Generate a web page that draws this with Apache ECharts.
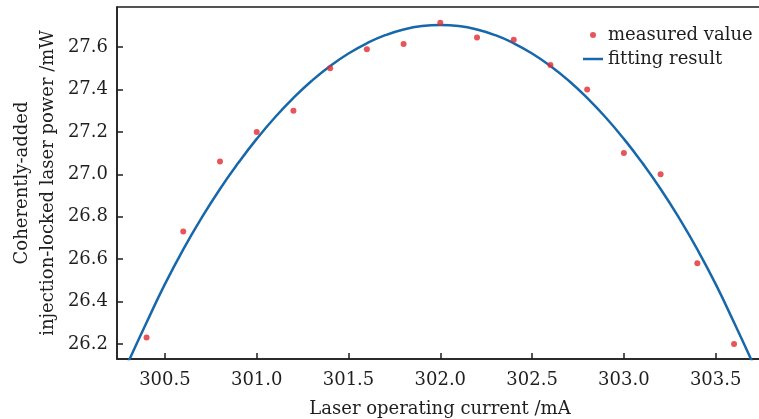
<!DOCTYPE html>
<html>
<head>
<meta charset="utf-8">
<script src="https://cdn.jsdelivr.net/npm/echarts@6/dist/echarts.min.js"></script>
<style>html,body{margin:0;padding:0;background:#fff}#c{width:759px;height:419px}</style>
</head>
<body>
<div id="c"></div>
<script>
// Measured data
var measuredX = [300.4, 300.6, 300.8, 301.0, 301.2, 301.4, 301.6, 301.8, 302.0, 302.2, 302.4, 302.6, 302.8, 303.0, 303.2, 303.4, 303.6];
var measuredY = [26.23, 26.73, 27.06, 27.20, 27.30, 27.50, 27.59, 27.615, 27.715, 27.645, 27.635, 27.515, 27.40, 27.10, 27.00, 26.58, 26.20];
// Fitting curve
var fitX = [300.3, 300.4, 300.5, 300.6, 300.7, 300.8, 300.9, 301.0, 301.1, 301.2, 301.3, 301.4, 301.5, 301.6, 301.7, 301.8, 301.9, 302.0, 302.1, 302.2, 302.3, 302.4, 302.5, 302.6, 302.7, 302.8, 302.9, 303.0, 303.1, 303.2, 303.3, 303.4, 303.5, 303.6, 303.7];
var fitY = [26.114, 26.301, 26.482, 26.646, 26.795, 26.931, 27.054, 27.167, 27.269, 27.360, 27.441, 27.511, 27.570, 27.618, 27.656, 27.683, 27.699, 27.704, 27.699, 27.683, 27.656, 27.618, 27.570, 27.511, 27.441, 27.360, 27.269, 27.167, 27.054, 26.931, 26.795, 26.646, 26.482, 26.301, 26.114];
// Tick labels
var xTicks = [300.5, 301.0, 301.5, 302.0, 302.5, 303.0, 303.5];
var yTicks = [26.2, 26.4, 26.6, 26.8, 27.0, 27.2, 27.4, 27.6];

var seriesNames = ['measured value', 'fitting result'];
var xName = 'Laser operating current /mA';
var yName = 'Coherently-added\ninjection-locked laser power /mW';

function pairs(xs, ys) { return xs.map(function (x, i) { return [x, ys[i]]; }); }

var FONT = 'DejaVu Serif';
var INK = '#1e1e1e';
var BLUE = '#1668ab';
var chart = echarts.init(document.getElementById('c'), null, { renderer: 'canvas' });
chart.setOption({
  animation: false,
  backgroundColor: '#fff',
  textStyle: { fontFamily: FONT, color: INK },
  grid: { left: 117, top: 7, width: 660, height: 352, show: true, borderColor: INK, borderWidth: 1.5,
    containLabel: false, outerBoundsMode: 'none' },
  legend: {
    orient: 'vertical', left: 583, top: 26, padding: 0, itemWidth: 20, itemHeight: 6, itemGap: 6,
    textStyle: { fontFamily: FONT, fontSize: 18, color: INK },
    data: [
      { name: seriesNames[0], icon: 'circle' },
      { name: seriesNames[1], icon: 'path://M0,0L8,0L8,1L0,1Z', itemStyle: { color: BLUE } }
    ]
  },
  xAxis: {
    type: 'value', min: 300.239, max: 303.834,
    name: xName, nameLocation: 'middle', nameGap: 41, nameMoveOverlap: false,
    nameTextStyle: { fontFamily: FONT, fontSize: 18, color: INK, padding: [0, 14, 0, 0] },
    axisLine: { show: true, lineStyle: { color: INK, width: 1.5 } },
    axisTick: { show: true, inside: true, length: 6, lineStyle: { color: INK, width: 1.5 }, customValues: xTicks },
    axisLabel: { show: true, margin: 12, fontFamily: FONT, fontSize: 18, color: INK, customValues: xTicks,
      formatter: function (v) { return v.toFixed(1); } },
    splitLine: { show: false }
  },
  yAxis: {
    type: 'value', min: 26.129, max: 27.789,
    name: yName, nameLocation: 'middle', nameGap: 56, nameRotate: 90, nameMoveOverlap: false,
    nameTextStyle: { fontFamily: FONT, fontSize: 18, color: INK, lineHeight: 26, align: 'center' },
    axisLine: { show: true, lineStyle: { color: INK, width: 1.5 } },
    axisTick: { show: true, inside: true, length: 6, lineStyle: { color: INK, width: 1.5 }, customValues: yTicks },
    axisLabel: { show: true, margin: 9, fontFamily: FONT, fontSize: 18, color: INK, customValues: yTicks,
      formatter: function (v) { return v.toFixed(1); } },
    splitLine: { show: false }
  },
  series: [
    {
      name: seriesNames[1], type: 'line', data: pairs(fitX, fitY), smooth: true, showSymbol: false, symbol: 'none',
      lineStyle: { color: BLUE, width: 2.5 }, itemStyle: { color: BLUE }, clip: true, z: 2
    },
    {
      name: seriesNames[0], type: 'scatter', data: pairs(measuredX, measuredY), symbol: 'circle', symbolSize: 6,
      itemStyle: { color: '#e02a2f' }, z: 3
    }
  ]
});
</script>
</body>
</html>
